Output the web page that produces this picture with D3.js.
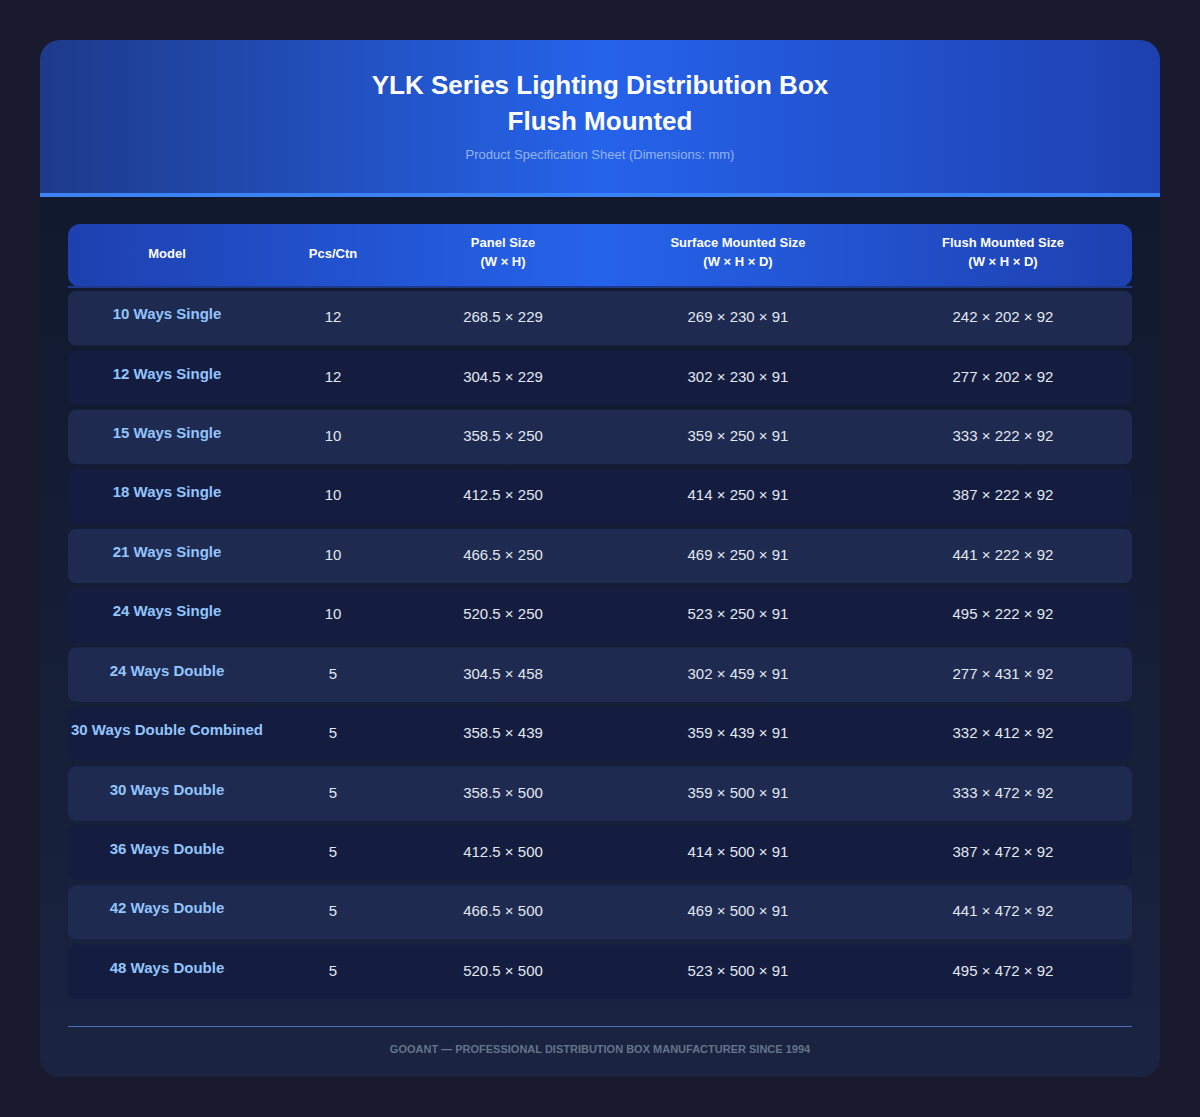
<!DOCTYPE html>
<html><head><meta charset="utf-8">
<script src="https://cdn.jsdelivr.net/npm/d3@7"></script>
<style>body{margin:0;background:#1a1a2e;font-family:"Liberation Sans",Arial,sans-serif}</style>
</head><body><svg id="chart" width="1200" height="1117"></svg>
<script>
var models = ["10 Ways Single","12 Ways Single","15 Ways Single","18 Ways Single","21 Ways Single","24 Ways Single","24 Ways Double","30 Ways Double Combined","30 Ways Double","36 Ways Double","42 Ways Double","48 Ways Double"];
var pcs = [12,12,10,10,10,10,5,5,5,5,5,5];
var panel = ["268.5 × 229","304.5 × 229","358.5 × 250","412.5 × 250","466.5 × 250","520.5 × 250","304.5 × 458","358.5 × 439","358.5 × 500","412.5 × 500","466.5 × 500","520.5 × 500"];
var surface = ["269 × 230 × 91","302 × 230 × 91","359 × 250 × 91","414 × 250 × 91","469 × 250 × 91","523 × 250 × 91","302 × 459 × 91","359 × 439 × 91","359 × 500 × 91","414 × 500 × 91","469 × 500 × 91","523 × 500 × 91"];
var flush = ["242 × 202 × 92","277 × 202 × 92","333 × 222 × 92","387 × 222 × 92","441 × 222 × 92","495 × 222 × 92","277 × 431 × 92","332 × 412 × 92","333 × 472 × 92","387 × 472 × 92","441 × 472 × 92","495 × 472 × 92"];
var headers = [["Model"],["Pcs/Ctn"],["Panel Size","(W × H)"],["Surface Mounted Size","(W × H × D)"],["Flush Mounted Size","(W × H × D)"]];
var colCenters = [167,333,503,738,1003];

var svg = d3.select("#chart");
var defs = svg.append("defs");
var hg = defs.append("linearGradient").attr("id","hg");
hg.append("stop").attr("offset","0").attr("stop-color","#1e3a8a");
hg.append("stop").attr("offset","0.5").attr("stop-color","#2563eb");
hg.append("stop").attr("offset","1").attr("stop-color","#1e40af");
var bg = defs.append("linearGradient").attr("id","bg").attr("x2",0).attr("y2",1);
bg.append("stop").attr("offset","0").attr("stop-color","#0f172a");
bg.append("stop").attr("offset","1").attr("stop-color","#1a2340");
var th = defs.append("linearGradient").attr("id","th");
th.append("stop").attr("offset","0").attr("stop-color","#1e40af");
th.append("stop").attr("offset","0.5").attr("stop-color","#2563eb");
th.append("stop").attr("offset","1").attr("stop-color","#1e40af");
defs.append("clipPath").attr("id","card").append("rect")
  .attr("x",40).attr("y",40).attr("width",1120).attr("height",1037).attr("rx",20);

var card = svg.append("g").attr("clip-path","url(#card)");
card.append("rect").attr("x",40).attr("y",40).attr("width",1120).attr("height",1037).attr("fill","url(#bg)");
card.append("rect").attr("x",40).attr("y",40).attr("width",1120).attr("height",153).attr("fill","url(#hg)");
card.append("rect").attr("x",40).attr("y",193).attr("width",1120).attr("height",4).attr("fill","#3b82f6");

svg.append("text").attr("x",600).attr("y",94).attr("text-anchor","middle").attr("fill","#fff")
  .attr("font-size",26).attr("font-weight","bold").text("YLK Series Lighting Distribution Box");
svg.append("text").attr("x",600).attr("y",130).attr("text-anchor","middle").attr("fill","#fff")
  .attr("font-size",26).attr("font-weight","bold").text("Flush Mounted");
svg.append("text").attr("x",600).attr("y",159).attr("text-anchor","middle").attr("fill","#93b4f0")
  .attr("font-size",13).text("Product Specification Sheet (Dimensions: mm)");

// header row
svg.append("rect").attr("x",68).attr("y",224).attr("width",1064).attr("height",63).attr("rx",12).attr("fill","url(#th)");
svg.append("rect").attr("x",68).attr("y",286).attr("width",1064).attr("height",2).attr("fill","#1e3a8a");
headers.forEach(function(h,i){
  var t = svg.append("text").attr("text-anchor","middle").attr("fill","#fff")
    .attr("font-size",13).attr("font-weight","bold");
  if (h.length===1) t.append("tspan").attr("x",colCenters[i]).attr("y",258).text(h[0]);
  else h.forEach(function(s,j){ t.append("tspan").attr("x",colCenters[i]).attr("y",247+j*19).text(s); });
});

var y = d3.scaleBand().domain(d3.range(models.length)).range([291,291+59*models.length]).paddingInner(5/59);
var rows = svg.selectAll("g.row").data(models).join("g").attr("class","row")
  .attr("transform",function(d,i){return "translate(0,"+y(i)+")";});
rows.append("rect").attr("x",68).attr("width",1064).attr("height",y.bandwidth()).attr("rx",8)
  .attr("fill",function(d,i){return i%2===0?"#1e2a50":"#141d40";});
rows.append("text").attr("x",colCenters[0]).attr("y",y.bandwidth()/2+1).attr("text-anchor","middle")
  .attr("fill","#93c5fd").attr("font-size",15).attr("font-weight","bold").text(function(d){return d;});
[pcs,panel,surface,flush].forEach(function(arr,k){
  rows.append("text").attr("x",colCenters[k+1]).attr("y",y.bandwidth()/2+4).attr("text-anchor","middle")
    .attr("fill","#e2e8f0").attr("font-size",15).text(function(d,i){return arr[i];});
});

svg.append("rect").attr("x",68).attr("y",1026).attr("width",1064).attr("height",1).attr("fill","#4a6fc0");
svg.append("text").attr("x",600).attr("y",1053).attr("text-anchor","middle").attr("fill","#64748b")
  .attr("font-size",11).attr("font-weight","bold").text("GOOANT — PROFESSIONAL DISTRIBUTION BOX MANUFACTURER SINCE 1994");
</script></body></html>
